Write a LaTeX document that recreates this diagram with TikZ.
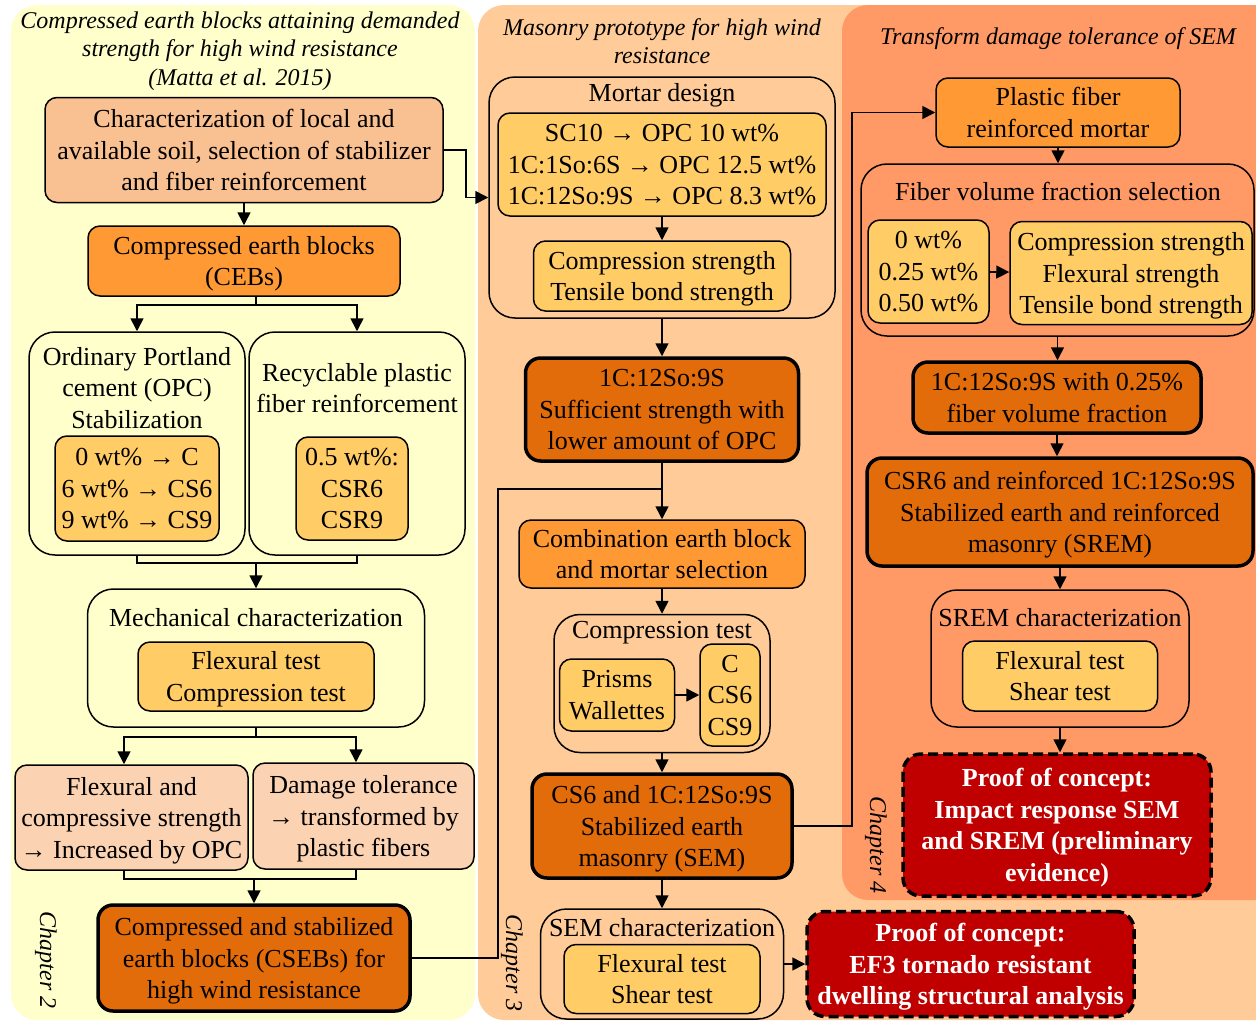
\documentclass[tikz,border=0pt]{standalone}
\usepackage{fontspec}
\setmainfont{Liberation Serif}
\usepackage{tikz}
\usetikzlibrary{arrows.meta,calc}
\usepackage{xcolor}

\definecolor{chapA}{HTML}{FFFFCC}
\definecolor{chapB}{HTML}{FFCC99}
\definecolor{chapC}{HTML}{FF9966}
\definecolor{salmon}{HTML}{F9C091}
\definecolor{peach}{HTML}{FCD3B2}
\definecolor{midorange}{HTML}{FF9933}
\definecolor{valueor}{HTML}{FFCC66}
\definecolor{darkor}{HTML}{E26B0A}
\definecolor{proofred}{HTML}{C00000}

\tikzset{
  box/.style={draw, line width=1.5pt, rounded corners=12pt, inner sep=0pt, text depth=0pt},
  group/.style={draw, line width=1.5pt, rounded corners=26pt, inner sep=0pt},
  key/.style={box, fill=darkor, line width=3.5pt, rounded corners=15pt},
  proof/.style={box, fill=proofred, line width=3.5pt, rounded corners=18pt, dash pattern=on 10pt off 5pt, text=white, font=\fontsize{26}{31.5}\selectfont\bfseries},
  title/.style={font=\fontsize{24}{28.5}\selectfont\itshape},
  chapter/.style={rotate=-90, font=\fontsize{24}{28.5}\selectfont\itshape},
  arr/.style={-{Triangle[length=13pt,width=13pt]}, line width=1.6pt},
  link/.style={line width=1.6pt}
}

\begin{document}
\begin{tikzpicture}[x=1pt, y=-1pt, every node/.style={font=\fontsize{26}{31.5}\selectfont, align=center}]
\useasboundingbox (0,0) rectangle (1256,1021);
% Panels
\begin{scope}
  \clip (0,0) rectangle (1256,1021);
  \fill[chapA, rounded corners=26pt] (11,5) rectangle (475,1020);
  \fill[chapB, rounded corners=26pt] (478,5) rectangle (1300,1020);
  \fill[chapC, rounded corners=26pt] (842,5) rectangle (1300,900);
\end{scope}

% Chapter 2
\node[title] (t2) at (240,51) {Compressed earth blocks attaining demanded\\strength for high wind resistance\\(Matta et al. 2015)};
\node[box, fill=salmon, minimum width=398pt, minimum height=105pt] (soil) at (244,150) {Characterization of local and\\available soil, selection of stabilizer\\and fiber reinforcement};
\node[box, fill=midorange, minimum width=312pt, minimum height=70pt] (ceb) at (244,261) {Compressed earth blocks\\(CEBs)};

\node[group, minimum width=216pt, minimum height=223pt] (opc) at (137,443.5) {};
\node (opctxt) at (137,388) {Ordinary Portland\\cement (OPC)\\Stabilization};
\node[box, fill=valueor, minimum width=164pt, minimum height=105pt] (opcval) at (137,488.5) {0 wt\% → C\\6 wt\% → CS6\\9 wt\% → CS9};

\node[group, minimum width=216pt, minimum height=223pt] (fib) at (357,443.5) {};
\node (fibtxt) at (357,388) {Recyclable plastic\\fiber reinforcement};
\node[box, fill=valueor, minimum width=112pt, minimum height=103pt] (fibval) at (352,488.5) {0.5 wt\%:\\CSR6\\CSR9};

\node[group, minimum width=337pt, minimum height=138pt] (mech) at (256,658) {};
\node (mechtxt) at (256,618) {Mechanical characterization};
\node[box, fill=valueor, minimum width=236pt, minimum height=69pt] (mechval) at (256,676.5) {Flexural test\\Compression test};

\node[box, fill=peach, minimum width=233pt, minimum height=105pt] (flex) at (131.5,817.5) {Flexural and\\compressive strength\\→ Increased by OPC};
\node[box, fill=peach, minimum width=221pt, minimum height=106pt] (dmg) at (363.5,816) {Damage tolerance\\→ transformed by\\plastic fibers};
\node[key, minimum width=312pt, minimum height=106pt] (cseb) at (254,958) {Compressed and stabilized\\earth blocks (CSEBs) for\\high wind resistance};
\node[chapter] (ch2) at (46,960) {Chapter 2};

% Chapter 3
\node[title] (t3) at (662,41) {Masonry prototype for high wind\\resistance};
\node[group, minimum width=346pt, minimum height=241pt] (mortar) at (662,197.5) {};
\node (mortartxt) at (662,95) {Mortar design};
\node[box, fill=valueor, minimum width=328pt, minimum height=103pt] (mortval) at (662,164.5) {SC10 → OPC 10 wt\%\\1C:1So:6S → OPC 12.5 wt\%\\1C:12So:9S → OPC 8.3 wt\%};
\node[box, fill=valueor, minimum width=257pt, minimum height=70pt] (mortres) at (662,276) {Compression strength\\Tensile bond strength};
\node[key, minimum width=273pt, minimum height=103pt] (lowopc) at (662,409.5) {1C:12So:9S\\Sufficient strength with\\lower amount of OPC};
\node[box, fill=midorange, minimum width=286pt, minimum height=68pt] (comb) at (662,554) {Combination earth block\\and mortar selection};
\node[group, minimum width=216pt, minimum height=138pt] (comp) at (662,683.5) {};
\node (comptxt) at (662,633) {Compression test};
\node[box, fill=valueor, minimum width=115pt, minimum height=72pt] (prisms) at (617,695) {Prisms\\Wallettes};
\node[box, fill=valueor, minimum width=60pt, minimum height=102pt] (mixes) at (730,695) {C\\CS6\\CS9};
\node[key, minimum width=260pt, minimum height=104pt] (sem) at (662,826) {CS6 and 1C:12So:9S\\Stabilized earth\\masonry (SEM)};
\node[group, minimum width=243pt, minimum height=110pt] (semchar) at (662,964) {};
\node (semchartxt) at (662,928) {SEM characterization};
\node[box, fill=valueor, minimum width=196pt, minimum height=69pt] (semtests) at (662,979) {Flexural test\\Shear test};
\node[proof, minimum width=327pt, minimum height=105pt] (tornado) at (970.5,964) {Proof of concept:\\EF3 tornado resistant\\dwelling structural analysis};
\node[chapter] (ch3) at (512,963) {Chapter 3};

% Chapter 4
\node[title] (t4) at (1058,39) {Transform damage tolerance of SEM};
\node[box, fill=midorange, minimum width=244pt, minimum height=69pt] (pfm) at (1058,112.5) {Plastic fiber\\reinforced mortar};
\node[group, minimum width=393pt, minimum height=172pt] (fvf) at (1057.5,250) {};
\node (fvftxt) at (1058,191) {Fiber volume fraction selection};
\node[box, fill=valueor, minimum width=121pt, minimum height=103pt] (fvfval) at (928.5,271.5) {0 wt\%\\0.25 wt\%\\0.50 wt\%};
\node[box, fill=valueor, minimum width=242pt, minimum height=103pt] (fvfres) at (1131,273) {Compression strength\\Flexural strength\\Tensile bond strength};
\node[key, minimum width=288pt, minimum height=71pt] (fibsel) at (1057,397.5) {1C:12So:9S with 0.25\%\\fiber volume fraction};
\node[key, minimum width=386pt, minimum height=108pt] (srem) at (1060,512) {CSR6 and reinforced 1C:12So:9S\\Stabilized earth and reinforced\\masonry (SREM)};
\node[group, minimum width=258pt, minimum height=137pt] (sremchar) at (1060,658.5) {};
\node (sremchartxt) at (1060,618) {SREM characterization};
\node[box, fill=valueor, minimum width=195pt, minimum height=70pt] (sremtests) at (1060,676) {Flexural test\\Shear test};
\node[proof, minimum width=308pt, minimum height=142pt] (impact) at (1057,825) {Proof of concept:\\Impact response SEM\\and SREM (preliminary\\evidence)};
\node[chapter] (ch4) at (876,845) {Chapter 4};

% Links chapter 2
\draw[arr] (soil) -- (ceb);
\coordinate (fork1) at (256,305);
\draw[link] (ceb.south -| fork1) -- (fork1);
\draw[arr] (fork1) -| (opc.north);
\draw[arr] (fork1) -| (fib.north);
\coordinate (join1) at (256,563);
\draw[link] (opc.south) |- (join1) -| (fib.south);
\draw[arr] (join1) -- (mech);
\coordinate (fork2) at (256,737);
\draw[link] (mech.south) -- (fork2);
\draw[arr] (fork2) -| ([xshift=-7.5pt]flex.north);
\draw[arr] (fork2) -| ([xshift=-7.5pt]dmg.north);
\coordinate (join2) at (254,879);
\draw[link] ([xshift=-7.5pt]flex.south) |- (join2) -| ([xshift=-7.5pt]dmg.south);
\draw[arr] (join2) -- (cseb);

% Links chapter 3
\draw[arr] (soil.east) -- ++(22,0) |- (mortar.west);
\draw[arr] (mortval) -- (mortres);
\draw[arr] (mortar) -- (lowopc);
\draw[arr] (lowopc) -- (comb);
\coordinate (merge) at (498,489);
\draw[link] (cseb.east) -| (merge) -- (merge -| lowopc.south);
\draw[arr] (comb) -- (comp);
\draw[arr] (prisms) -- (mixes);
\draw[arr] (comp) -- (sem);
\draw[arr] (sem) -- (semchar);
\draw[arr] (semchar) -- (tornado);

% Links chapter 4
\coordinate (riser) at (852,826);
\draw[arr] (sem.east) -- (riser) |- (pfm.west);
\draw[arr] (pfm) -- (pfm |- fvf.north);
\draw[arr] (fvfval) -- (fvfres);
\draw[arr] (fvf) -- (fvf |- fibsel.north);
\draw[arr] (fibsel) -- (fibsel |- srem.north);
\draw[arr] (srem) -- (srem |- sremchar.north);
\draw[arr] (sremchar) -- (sremchar |- impact.north);
\end{tikzpicture}
\end{document}
